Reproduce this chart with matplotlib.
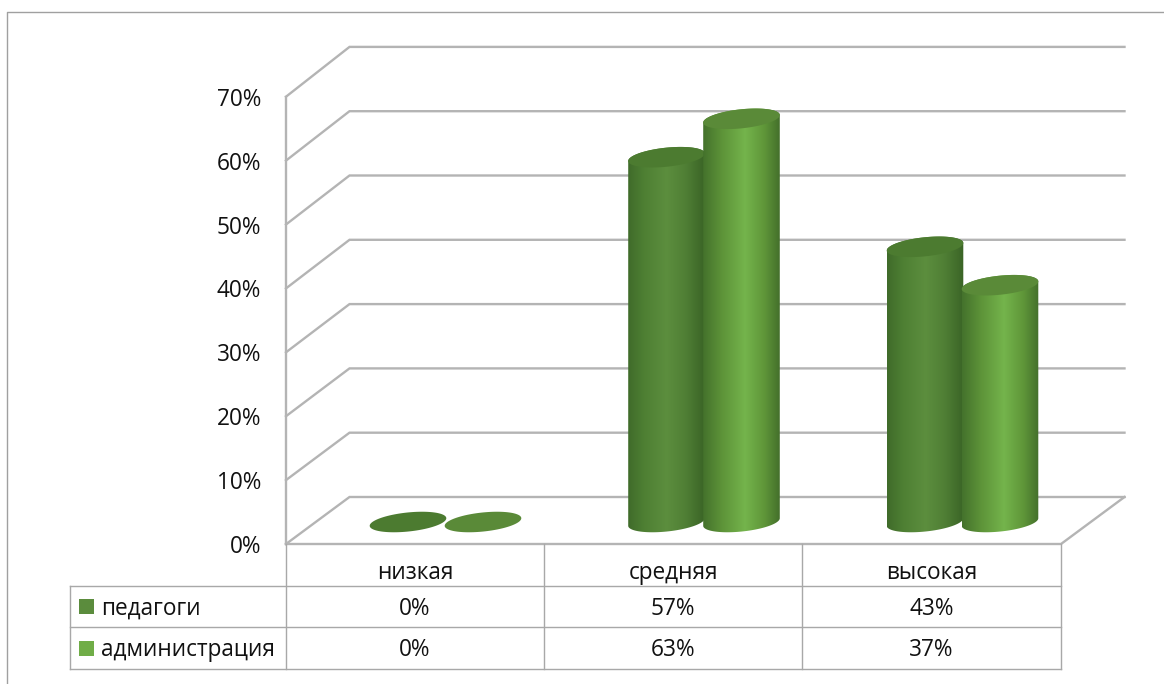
#!/usr/bin/env python3
import numpy as np
import matplotlib
matplotlib.use('Agg')
import matplotlib.pyplot as plt
from matplotlib.colors import LinearSegmentedColormap
from matplotlib.patches import Polygon, Rectangle

categories = ['низкая', 'средняя', 'высокая']
series_names = ['педагоги', 'администрация']
teachers = [0, 57, 43]
admin = [0, 63, 37]
y_ticks = [0, 10, 20, 30, 40, 50, 60, 70]

plt.rcParams['font.family'] = ['Open Sans', 'DejaVu Sans']
FONT = 16.3
TEXT = '#111111'
GRID = '#b4b4b4'
TABLE = '#a8a8a8'

# pixel layout of the fake 3d box
X0, X1 = 286, 1061
DX, DY = 63.5, 47
Y_ZERO, PX_PER_PCT = 544, 6.39
BACK_PX = 6.43
COLS = [286, 544, 802, 1061]
ROWS = [544, 586, 627, 669]
BASE_Y = 522
CYL_PX = 6.4
A, B, TILT = 38.5, 9.5, np.deg2rad(-6)

cmaps = [
    LinearSegmentedColormap.from_list('dark', [(0, '#3f6b2a'), (0.2, '#4e7f33'), (0.5, '#5c8e3e'),
                                               (0.75, '#507f35'), (1, '#3a6426')]),
    LinearSegmentedColormap.from_list('light', [(0, '#44722c'), (0.25, '#5e9439'), (0.55, '#74b44c'),
                                                (0.8, '#5f9639'), (1, '#44702b')]),
]
top_colors = ['#4c7b30', '#5a8a38']
legend_colors = ['#5b8c3d', '#70ad47']


def ellipse(cx, cy, t):
    x = cx + A * np.cos(t) * np.cos(TILT) - B * np.sin(t) * np.sin(TILT)
    y = cy + A * np.cos(t) * np.sin(TILT) + B * np.sin(t) * np.cos(TILT)
    return np.column_stack([x, y])


def cylinder(ax, cx, value, s):
    top_y = BASE_Y - value * CYL_PX
    if value > 0:
        lower = ellipse(cx, BASE_Y, np.linspace(np.pi, 0, 60))
        upper = ellipse(cx, top_y, np.linspace(0, -np.pi, 60))
        body = Polygon(np.vstack([lower, upper]), closed=True, fc='none', ec='none', transform=ax.transData)
        ax.add_patch(body)
        grad = np.linspace(0, 1, 128)[None, :]
        im = ax.imshow(grad, cmap=cmaps[s], extent=[cx - A, cx + A, BASE_Y + 14, top_y - 14],
                       aspect='auto', interpolation='bilinear', zorder=3 + s * 0.01)
        im.set_clip_path(body)
    ring = ellipse(cx, top_y, np.linspace(0, 2 * np.pi, 120))
    ax.add_patch(Polygon(ring, closed=True, fc=top_colors[s], ec='none', zorder=3.001 + s * 0.01))


fig = plt.figure(figsize=(11.64, 6.84), dpi=100)
ax = fig.add_axes([0, 0, 1, 1])

# outer frame
ax.plot([7, 7, 1164], [684, 12, 12], color='#a0a0a0', lw=1)

# walls and gridlines
for v in y_ticks:
    yf = Y_ZERO - v * PX_PER_PCT
    yb = Y_ZERO - DY - v * BACK_PX
    ax.plot([X0, X0 + DX, X1 + DX], [yf, yb, yb], color=GRID, lw=1.7, solid_joinstyle='miter', zorder=1)
    ax.text(261, yf + 3, f'{v}%', ha='right', va='center', fontsize=FONT, color=TEXT)
ax.plot([X0, X0], [Y_ZERO, Y_ZERO - 70 * PX_PER_PCT], color=GRID, lw=1.7, zorder=1)
ax.plot([X0, X1, X1 + DX], [Y_ZERO, Y_ZERO, Y_ZERO - DY], color=GRID, lw=1.7, zorder=1)

# cylinders
for i, cat in enumerate(categories):
    left = 408 + i * 258.5
    cylinder(ax, left, teachers[i], 0)
    cylinder(ax, left + 75, admin[i], 1)

# data table
for x in COLS:
    ax.plot([x, x], [ROWS[0], ROWS[-1]], color=TABLE, lw=1, zorder=2)
for y in ROWS[1:]:
    ax.plot([70, COLS[-1]], [y, y], color=TABLE, lw=1, zorder=2)
ax.plot([70, 70], [ROWS[1], ROWS[-1]], color=TABLE, lw=1, zorder=2)

for i, cat in enumerate(categories):
    xc = (COLS[i] + COLS[i + 1]) / 2
    ax.text(xc, 573, cat, ha='center', va='center', fontsize=FONT, color=TEXT)
    ax.text(xc, 609, f'{teachers[i]}%', ha='center', va='center', fontsize=FONT, color=TEXT)
    ax.text(xc, 650, f'{admin[i]}%', ha='center', va='center', fontsize=FONT, color=TEXT)

for s, name in enumerate(series_names):
    yc = (ROWS[s + 1] + ROWS[s + 2]) / 2
    ax.add_patch(Rectangle((79, yc - 7.5), 15, 15, fc=legend_colors[s], ec='none'))
    ax.text(101, yc + 2, name, ha='left', va='center', fontsize=FONT, color=TEXT)

ax.set_xlim(0, 1164)
ax.set_ylim(684, 0)
ax.axis('off')
fig.savefig('out.png', dpi=100, facecolor='white')
